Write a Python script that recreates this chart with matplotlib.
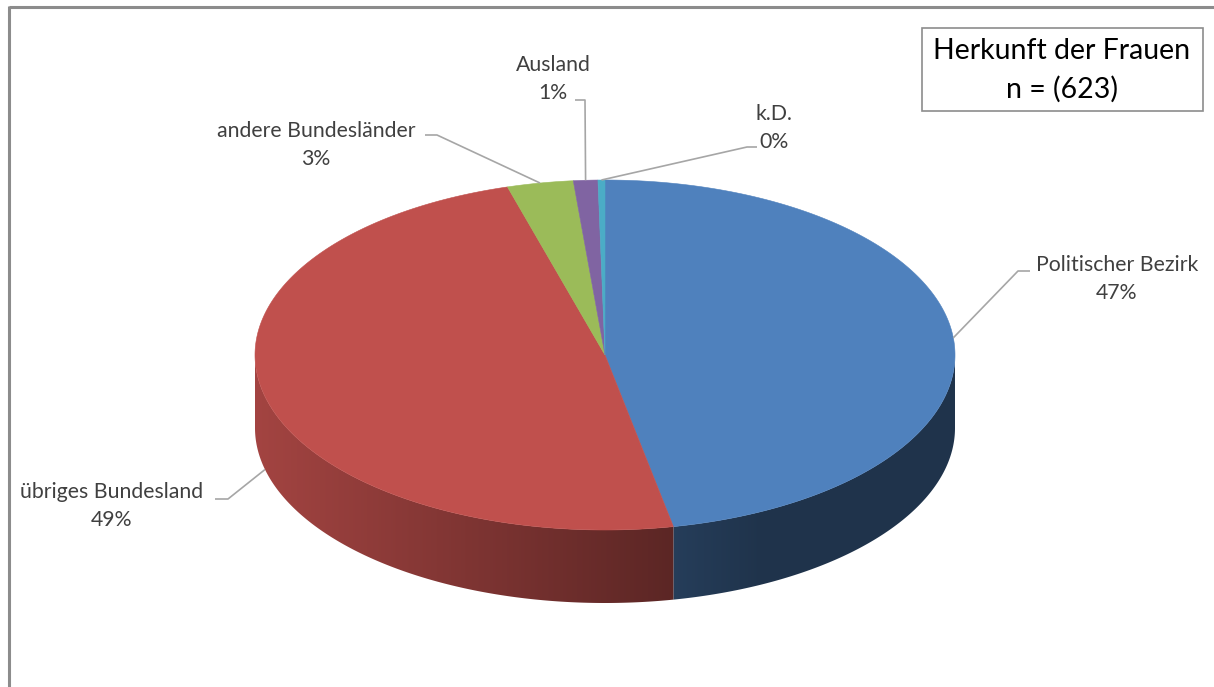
import numpy as np
import matplotlib
matplotlib.use("Agg")
import matplotlib.pyplot as plt
from matplotlib.patches import Polygon, Rectangle

# ── Data ──
labels = ["Politischer Bezirk", "übriges Bundesland", "andere Bundesländer", "Ausland", "k.D."]
counts = [292, 303, 19, 7, 2]
colors = ["#4f81bd", "#c0504d", "#9bbb59", "#8064a2", "#4bacc6"]
title_lines = ["Herkunft der Frauen", f"n = ({sum(counts)})"]

# ── Pie geometry (pixel space) ──
W, H = 1214, 687
cx, cy = 605, 355
rx, ry = 350, 175
depth = 73

# label layout: text centre of first line, elbow point, end of horizontal stub
label_layout = [
    dict(tx=1117, ty=265, ex=1018, ey=271, hx=1030),
    dict(tx=112, ty=492, ex=228, ey=499, hx=215),
    dict(tx=316, ty=131, ex=437, ey=135, hx=425),
    dict(tx=553, ty=65, ex=585, ey=100, hx=575),
    dict(tx=774, ty=114, ex=747, ey=147, hx=757),
]

plt.rcParams["font.family"] = ["Lato", "DejaVu Sans"]
txt_col = "#404040"
line_col = "#a6a6a6"
lab_size = 15.3

fig = plt.figure(figsize=(W / 100, H / 100), dpi=100)
ax = fig.add_axes([0, 0, 1, 1])


def pt(theta, dy=0.0):
    # theta in degrees, clockwise from 12 o'clock
    t = np.radians(theta)
    return cx + rx * np.sin(t), cy - ry * np.cos(t) + dy


def shade(x):
    return np.clip(0.85 - 0.37 * (x - 255) / 415, 0.40, 1.0)


total = float(sum(counts))
fracs = np.array(counts) / total
bounds = np.concatenate([[0], np.cumsum(fracs)]) * 360

xs = np.arange(W) + 0.5
# ── Side walls (front half only: 90..270 deg) ──
for i, c in enumerate(colors):
    a, b = max(bounds[i], 90), min(bounds[i + 1], 270)
    if b <= a:
        continue
    th = np.linspace(a, b, 200)
    top = np.array([pt(t) for t in th])
    bot = np.array([pt(t, depth) for t in th])[::-1]
    poly = Polygon(np.vstack([top, bot]), closed=True, transform=ax.transData,
                   facecolor="none", edgecolor="none")
    base = np.array(matplotlib.colors.to_rgb(c))
    grad = shade(xs)[None, :, None] * base[None, None, :]
    im = ax.imshow(grad, extent=(0, W, H, 0), aspect="auto", interpolation="bilinear", zorder=1)
    im.set_clip_path(poly)

# ── Top faces ──
for i, c in enumerate(colors):
    th = np.linspace(bounds[i], bounds[i + 1], max(int((bounds[i + 1] - bounds[i]) * 2), 4))
    arc = np.array([pt(t) for t in th])
    verts = np.vstack([[cx, cy], arc])
    ax.add_patch(Polygon(verts, closed=True, facecolor=c, edgecolor=c, linewidth=0.4, zorder=2))

# ── Labels with leader lines ──
for i, (lab, lay) in enumerate(zip(labels, label_layout)):
    mid = (bounds[i] + bounds[i + 1]) / 2
    front = 90 < mid < 270
    ax_, ay_ = pt(mid, depth if front else 0)
    ax.plot([ax_, lay["ex"], lay["hx"]], [ay_, lay["ey"], lay["ey"]],
            color=line_col, lw=1.2, zorder=3, solid_capstyle="butt")
    pct = f"{fracs[i] * 100:.0f}%"
    ax.text(lay["tx"], lay["ty"], lab, ha="center", va="center", fontsize=lab_size, color=txt_col)
    ax.text(lay["tx"], lay["ty"] + 28, pct, ha="center", va="center", fontsize=lab_size, color=txt_col)

# ── Title box ──
ax.add_patch(Rectangle((922, 28), 281, 83, facecolor="white", edgecolor="#8c8c8c", lw=1.2, zorder=4))
ax.text(1062, 51, title_lines[0], ha="center", va="center", fontsize=20.5, color="black", zorder=5)
ax.text(1062, 89, title_lines[1], ha="center", va="center", fontsize=20.5, color="black", zorder=5)

# ── Chart frame (partially cropped) ──
ax.plot([9, W], [7, 7], color="#8c8c8c", lw=2.2, zorder=5, solid_capstyle="butt")
ax.plot([9, 9], [6, H], color="#8c8c8c", lw=2.2, zorder=5, solid_capstyle="butt")

ax.set_xlim(0, W)
ax.set_ylim(H, 0)
ax.axis("off")

fig.savefig("out.png", dpi=100, facecolor="white")
